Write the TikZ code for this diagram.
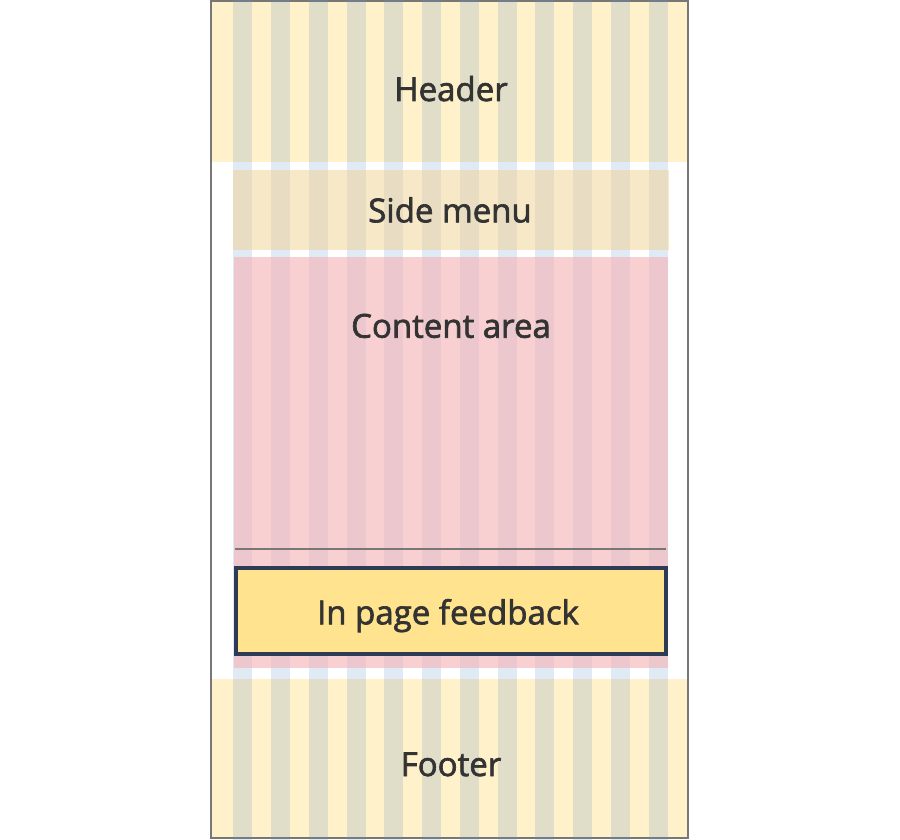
\documentclass[tikz,border=0pt]{standalone}
\usepackage{fontspec}
\setmainfont{Open Sans}
\newfontfamily\labelfont{Open Sans}[FakeBold=2]
\definecolor{headerfill}{RGB}{255,241,201}
\definecolor{sidefill}{RGB}{239,209,145}
\definecolor{contentfill}{RGB}{244,179,182}
\definecolor{feedbackfill}{RGB}{255,227,142}
\definecolor{feedbackline}{RGB}{46,59,86}
\definecolor{framegray}{RGB}{119,119,119}
\definecolor{gridblue}{RGB}{100,150,200}
\definecolor{textgray}{RGB}{51,51,51}
\tikzset{
    region/.style={rectangle, inner sep=0pt, draw=none},
    label text/.style={anchor=base, font=\fontsize{33}{40}\selectfont\labelfont, text=textgray, inner sep=0pt},
    grid column/.style={fill=gridblue, fill opacity=0.2, draw=none}
}
\begin{document}
\begin{tikzpicture}[x=1pt, y=-1pt]
    \useasboundingbox (0,0) rectangle (900,840);
    % Header and footer
    \node[region, fill=headerfill, minimum width=478pt, minimum height=162pt] (header) at (449.5,81) {};
    \node[region, fill=headerfill, minimum width=478pt, minimum height=160pt] (footer) at (449.5,759) {};

    % Page frame
    \draw[framegray, line width=2pt] (211,1) rectangle (688,838);

    % Grid columns
    \foreach \i in {0,...,11}
        \fill[grid column] (233.3+37.75*\i,0) rectangle ++(19,840);

    % Side menu
    \node[region, fill=sidefill, fill opacity=0.5, minimum width=436pt, minimum height=80pt] (sidemenu) at (451,210) {};
    % Content area
    \node[region, fill=contentfill, fill opacity=0.62, minimum width=434pt, minimum height=411pt] (content) at (451,462.5) {};
    \coordinate (ruleleft) at (235,549);
    \coordinate (ruleright) at (666,549);
    \draw[framegray, line width=1.2pt] (ruleleft) -- (ruleright);

    % In page feedback
    \node[region, fill=feedbackfill, draw=feedbackline, line width=4pt, minimum width=430pt, minimum height=86pt] (feedback) at (451,611) {};

    % Labels
    \node[label text] (headerlabel) at (451,101) {Header};
    \node[label text] (sidemenulabel) at (450,222.3) {Side menu};
    \node[label text] (contentlabel) at (451,337.7) {Content area};
    \node[label text] (feedbacklabel) at (448,624.3) {In page feedback};
    \node[label text] (footerlabel) at (451,776) {Footer};
\end{tikzpicture}
\end{document}
